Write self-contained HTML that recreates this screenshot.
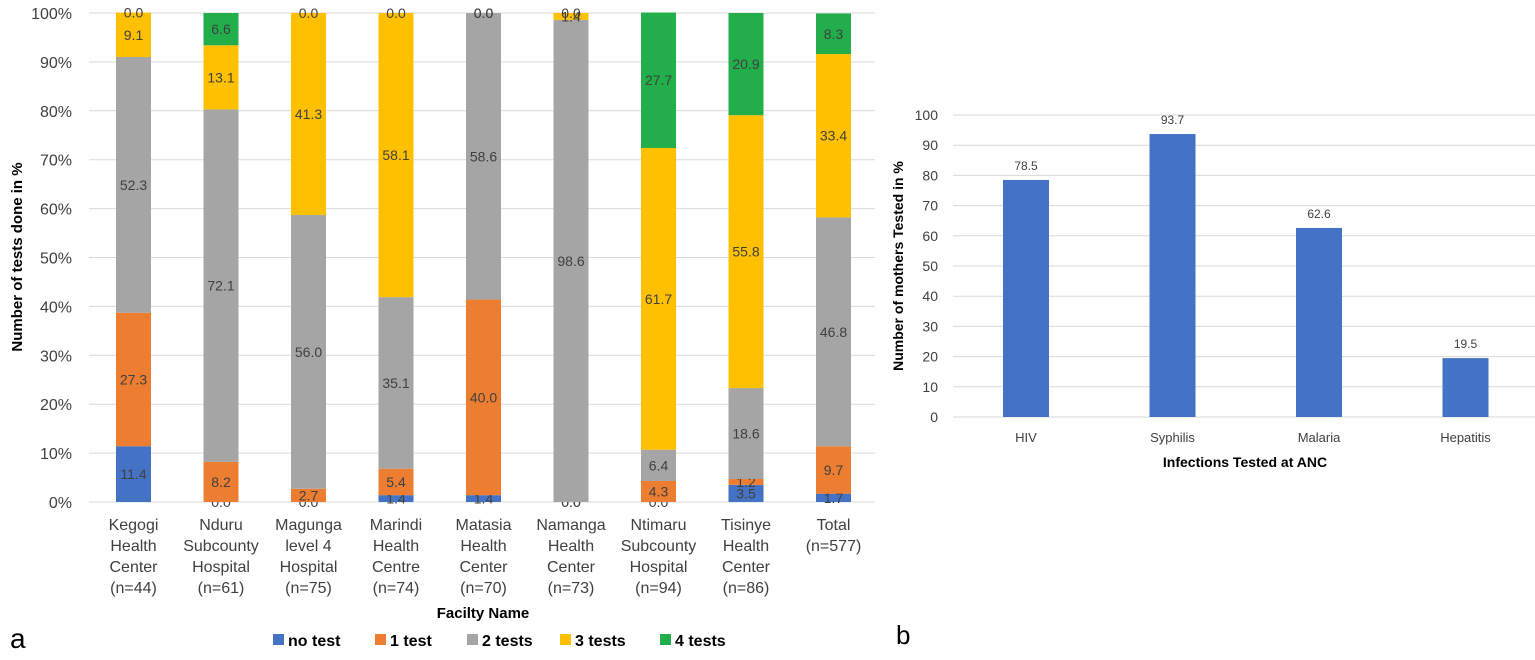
<!DOCTYPE html>
<html><head><meta charset="utf-8"><style>
body{margin:0;background:#fff;width:1535px;height:655px;overflow:hidden;font-family:"Liberation Sans",sans-serif}
svg text{font-family:"Liberation Sans",sans-serif}
</style></head><body>
<svg id="s" width="1535" height="655"></svg>
<script>
const facilities=[["Kegogi","Health","Center","(n=44)"],["Nduru","Subcounty","Hospital","(n=61)"],["Magunga","level 4","Hospital","(n=75)"],["Marindi","Health","Centre","(n=74)"],["Matasia","Health","Center","(n=70)"],["Namanga","Health","Center","(n=73)"],["Ntimaru","Subcounty","Hospital","(n=94)"],["Tisinye","Health","Center","(n=86)"],["Total","(n=577)"]];
const seriesNames=["no test","1 test","2 tests","3 tests","4 tests"];
const noTest=[11.4,0.0,0.0,1.4,1.4,0.0,0.0,3.5,1.7];
const oneTest=[27.3,8.2,2.7,5.4,40.0,0.0,4.3,1.2,9.7];
const twoTests=[52.3,72.1,56.0,35.1,58.6,98.6,6.4,18.6,46.8];
const threeTests=[9.1,13.1,41.3,58.1,0.0,1.4,61.7,55.8,33.4];
const fourTests=[0.0,6.6,0.0,0.0,0.0,0.0,27.7,20.9,8.3];
const yTicksA=["0%","10%","20%","30%","40%","50%","60%","70%","80%","90%","100%"];
const infections=["HIV","Syphilis","Malaria","Hepatitis"];
const tested=[78.5,93.7,62.6,19.5];
const yTicksB=[0,10,20,30,40,50,60,70,80,90,100];
const colors=["#4472C4","#ED7D31","#A5A5A5","#FFC000","#21AE4B"];
const NS="http://www.w3.org/2000/svg";
const svg=document.getElementById('s');
function el(t,a,txt){const e=document.createElementNS(NS,t);for(const k in a)e.setAttribute(k,a[k]);if(txt!==undefined)e.textContent=txt;svg.appendChild(e);return e;}
const yA=v=>502-v*4.89;
const xA=i=>133.5+i*87.5;
yTicksA.forEach((t,i)=>{
 let g=el('line',{x1:89,x2:875,y1:yA(i*10),y2:yA(i*10),stroke:'#d9d9d9','stroke-width':1});
 
 let l=el('text',{x:72,y:yA(i*10)+6,'text-anchor':'end','font-size':16,fill:'#404040'},t);
 
});
const all=[noTest,oneTest,twoTests,threeTests,fourTests];
facilities.forEach((f,i)=>{
 let base=0;
 all.forEach((s,k)=>{
  const v=s[i];
  const r=el('rect',{x:xA(i)-17.5,y:yA(base+v),width:35,height:v*4.89,fill:colors[k]});
  
  const t=el('text',{x:xA(i),y:yA(base+v/2)+5,'text-anchor':'middle','font-size':14,fill:'#404040'},v.toFixed(1));
  
  base+=v;
 });
 f.forEach((line,j)=>{
  const t=el('text',{x:xA(i),y:530+j*21,'text-anchor':'middle','font-size':16,fill:'#404040'},line);
  
 });
});
let t;
t=el('text',{x:483,y:618,'text-anchor':'middle','font-size':15,'font-weight':'bold',fill:'#000'},'Facilty Name');

t=el('text',{x:22,y:257,'text-anchor':'middle','font-size':15,'font-weight':'bold',fill:'#000',transform:'rotate(-90 22 257)'},'Number of tests done in %');

const legX=[273,375,467,560,660];
seriesNames.forEach((n,k)=>{
 const r=el('rect',{x:legX[k],y:634,width:11,height:11,fill:colors[k]});
 
 const tt=el('text',{x:legX[k]+15,y:646,'font-size':16,'font-weight':'bold',fill:'#000'},n);
 
});
t=el('text',{x:10,y:648,'font-size':28,fill:'#000'},'a');

const yB=v=>417-v*3.02;
const xB=i=>1026+i*146.5;
yTicksB.forEach(v=>{
 let g=el('line',{x1:953,x2:1535,y1:yB(v),y2:yB(v),stroke:'#d9d9d9','stroke-width':1});
 
 let l=el('text',{x:938,y:yB(v)+5,'text-anchor':'end','font-size':14,fill:'#404040'},v);
 
});
infections.forEach((n,i)=>{
 const r=el('rect',{x:xB(i)-23,y:yB(tested[i]),width:46,height:tested[i]*3.02,fill:'#4472C4'});
 
 const v=el('text',{x:xB(i),y:yB(tested[i])-10,'text-anchor':'middle','font-size':12,fill:'#404040'},tested[i].toFixed(1));
 
 const c=el('text',{x:xB(i),y:442,'text-anchor':'middle','font-size':13,fill:'#404040'},n);
 
});
t=el('text',{x:1245,y:467,'text-anchor':'middle','font-size':14,'font-weight':'bold',fill:'#000'},'Infections Tested at ANC');

t=el('text',{x:903,y:266,'text-anchor':'middle','font-size':14,'font-weight':'bold',fill:'#000',transform:'rotate(-90 903 266)'},'Number of mothers Tested in %');

t=el('text',{x:896,y:644,'font-size':26,fill:'#000'},'b');

</script>
</body></html>
